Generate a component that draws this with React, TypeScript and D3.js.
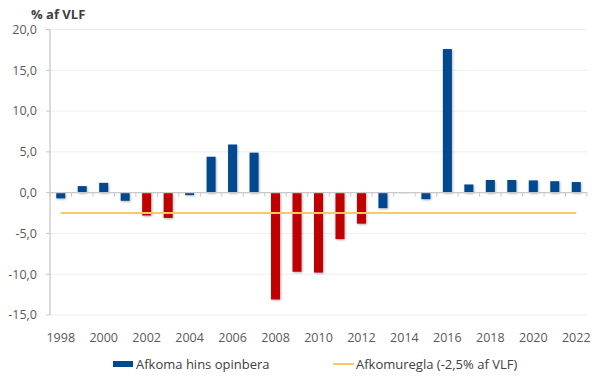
import React from "react";
import * as d3 from "d3";

const years = [1998,1999,2000,2001,2002,2003,2004,2005,2006,2007,2008,2009,2010,2011,2012,2013,2014,2015,2016,2017,2018,2019,2020,2021,2022];
const balance = [-0.7,0.8,1.2,-1.0,-2.8,-3.1,-0.3,4.4,5.9,4.9,-13.1,-9.7,-9.8,-5.7,-3.8,-1.9,-0.05,-0.8,17.6,1.0,1.55,1.55,1.5,1.4,1.3];
const redYears = [2002,2003,2008,2009,2010,2011,2012];
const ruleValue = -2.5;
const yTicks = [20,15,10,5,0,-5,-10,-15];
const xLabelYears = [1998,2000,2002,2004,2006,2008,2010,2012,2014,2016,2018,2020,2022];
const seriesName = "Afkoma hins opinbera";
const ruleName = "Afkomuregla (-2,5% af VLF)";
const yTitle = "% af VLF";

const W = 600, H = 381;
const left = 50, right = 587, top = 29.5, bottom = 315;
const font = "'Open Sans', 'Noto Sans', sans-serif";
const blue = "#004990";
const red = "#C00000";
const gold = "#F7CB62";

export default function App() {
  const x = d3.scaleBand<number>().domain(years).range([left, right]).paddingInner(0.58).paddingOuter(0.29);
  const y = d3.scaleLinear().domain([-15, 20]).range([bottom, top]);
  const band = (right - left) / years.length;
  const fmt = (v: number) => d3.format(".1f")(v).replace(".", ",").replace("−", "-");
  const xc = (yr: number) => (x(yr) as number) + x.bandwidth() / 2;
  return (
    <svg width={W} height={H} style={{ position: "absolute", left: 0, top: 0 }}>
      <defs>
        <filter id="sh" x="-50%" y="-50%" width="200%" height="200%">
          <feDropShadow dx="0.8" dy="1" stdDeviation="0.8" floodColor="#000" floodOpacity="0.3" />
        </filter>
      </defs>
      <rect width={W} height={H} fill="#fff" />
      {yTicks.map((t) => (
        <g key={t}>
          {t !== 0 && <line x1={left} x2={right} y1={y(t)} y2={y(t)} stroke="#eeeeee" strokeWidth={1} />}
          <line x1={left - 4} x2={left} y1={y(t)} y2={y(t)} stroke="#c8c8c8" />
          <text x={37} y={y(t)} dy="0.35em" textAnchor="end" fontFamily={font} fontSize={12.5} fill="#595959">{fmt(t)}</text>
        </g>
      ))}
      <line x1={left} x2={left} y1={top} y2={bottom} stroke="#c8c8c8" strokeWidth={1.3} />
      <text x={31} y={19} fontFamily={font} fontSize={13} fontWeight="bold" fill="#404040">{yTitle}</text>
      {years.map((yr, i) => {
        const v = balance[i];
        const y0 = y(Math.max(0, v));
        const h = Math.abs(y(v) - y(0));
        return (
          <rect key={yr} x={x(yr)} y={y0} width={x.bandwidth()} height={h}
            fill={redYears.includes(yr) ? red : blue} filter="url(#sh)" />
        );
      })}
      <line x1={left} x2={right} y1={y(0)} y2={y(0)} stroke="#c8c8c8" strokeWidth={1.2} />
      {d3.range(years.length + 1).map((i) => (
        <line key={i} x1={left + i * band} x2={left + i * band} y1={y(0)} y2={y(0) + 4} stroke="#c8c8c8" />
      ))}
      <line x1={xc(years[0])} x2={xc(years[years.length - 1])} y1={y(ruleValue)} y2={y(ruleValue)} stroke={gold} strokeWidth={2} />
      {xLabelYears.map((yr) => (
        <text key={yr} x={xc(yr)} y={338} dy="0.35em" textAnchor="middle" fontFamily={font} fontSize={12.5} fill="#595959">{yr}</text>
      ))}
      <rect x={113} y={361} width={20} height={6} fill={blue} />
      <text x={136} y={364} dy="0.35em" fontFamily={font} fontSize={13} fill="#404040">{seriesName}</text>
      <line x1={333} x2={354} y1={364} y2={364} stroke={gold} strokeWidth={2} />
      <text x={356} y={364} dy="0.35em" fontFamily={font} fontSize={13} fill="#404040">{ruleName}</text>
    </svg>
  );
}
